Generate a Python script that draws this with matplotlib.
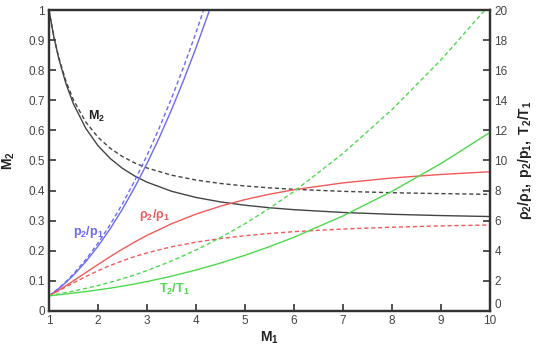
import matplotlib
matplotlib.use("Agg")
import matplotlib.pyplot as plt

plt.rcParams['font.family'] = ['Liberation Sans', 'DejaVu Sans']
plt.rcParams['mathtext.fontset'] = 'custom'
plt.rcParams['mathtext.rm'] = 'Liberation Sans'
plt.rcParams['mathtext.it'] = 'Liberation Sans:italic'
plt.rcParams['mathtext.bf'] = 'Liberation Sans:bold'

# Upstream Mach number samples
M1 = [1, 1.1, 1.2, 1.35, 1.5, 1.75, 2, 2.25, 2.5, 2.75, 3, 3.5, 4, 4.5,
      5, 5.5, 6, 7, 8, 9, 10]

# Solid curves
M2_solid = [1.0, 0.9107, 0.8387, 0.7537, 0.6881, 0.6072, 0.5494, 0.5066, 0.4739,
            0.4483, 0.4280, 0.3978, 0.3771, 0.3623, 0.3513, 0.3429, 0.3365,
            0.3272, 0.3211, 0.3169, 0.3137]
rho_solid = [1.0, 1.185, 1.380, 1.685, 2.002, 2.543, 3.083, 3.609, 4.111, 4.582,
             5.020, 5.792, 6.435, 6.964, 7.400, 7.759, 8.057, 8.512, 8.836,
             9.073, 9.250]
T_solid = [1.0, 1.038, 1.075, 1.130, 1.186, 1.285, 1.394, 1.514, 1.647, 1.792,
           1.951, 2.307, 2.718, 3.182, 3.700, 4.272, 4.899, 6.316, 7.950,
           9.802, 11.871]

# Dashed curves
M2_dash = [1.0, 0.9118, 0.8422, 0.7618, 0.7011, 0.6281, 0.5774, 0.5406, 0.5130,
           0.4918, 0.4752, 0.4512, 0.4350, 0.4236, 0.4152, 0.4090, 0.4042,
           0.3974, 0.3929, 0.3898, 0.3876]
rho_dash = [1.0, 1.169, 1.342, 1.603, 1.862, 2.279, 2.667, 3.019, 3.333, 3.612,
            3.857, 4.261, 4.571, 4.812, 5.000, 5.149, 5.268, 5.444, 5.565,
            5.651, 5.714]
T_dash = [1.0, 1.065, 1.128, 1.223, 1.320, 1.495, 1.688, 1.901, 2.138, 2.397,
          2.679, 3.315, 4.047, 4.875, 5.800, 6.822, 7.941, 10.469, 13.387,
          16.693, 20.387]

# Pressure ratio (only the visible range)
M1_p = [1, 1.1, 1.2, 1.35, 1.5, 1.75, 2, 2.25, 2.5, 2.75, 3, 3.25, 3.5, 3.75,
        4, 4.25, 4.5]
p_solid = [1.0, 1.231, 1.484, 1.904, 2.374, 3.267, 4.297, 5.465, 6.770, 8.213,
           9.793, 11.510, 13.365, 15.357, 17.487, 19.753, 22.158]
p_dash = [1.0, 1.245, 1.513, 1.960, 2.458, 3.406, 4.500, 5.740, 7.125, 8.656,
          10.333, 12.156, 14.125, 16.240, 18.500, 20.906, 23.458]

left_ticks = [0, 0.1, 0.2, 0.3, 0.4, 0.5, 0.6, 0.7, 0.8, 0.9, 1]
left_labels = ['0', '0.1', '0.2', '0.3', '0.4', '0.5', '0.6', '0.7', '0.8', '0.9', '1']
right_ticks = [0, 2, 4, 6, 8, 10, 12, 14, 16, 18, 20]
x_ticks = [1, 2, 3, 4, 5, 6, 7, 8, 9, 10]

c_m = '#444444'
c_p = '#6a6af5'
c_r = '#f05a5a'
c_t = '#4ed84e'
dash = (0, (3, 2))
spine_c = '#333333'
txt_c = '#444444'

fig = plt.figure(figsize=(5.5, 3.47), dpi=100)
ax = fig.add_axes([0.089, 0.104, 0.802, 0.867])
ax2 = ax.twinx()

ax.plot(M1, M2_solid, color=c_m, lw=1.0)
ax.plot(M1, M2_dash, color=c_m, lw=1.0, ls=dash)

ax2.plot(M1_p, p_solid, color=c_p, lw=1.0)
ax2.plot(M1_p, p_dash, color=c_p, lw=1.0, ls=dash)
ax2.plot(M1, rho_solid, color=c_r, lw=1.0)
ax2.plot(M1, rho_dash, color=c_r, lw=1.0, ls=dash)
ax2.plot(M1, T_solid, color=c_t, lw=1.0)
ax2.plot(M1, T_dash, color=c_t, lw=1.0, ls=dash)

ax.set_xlim(1, 10)
ax.set_ylim(0, 1)
ax2.set_ylim(0, 20)

ax.set_xticks(x_ticks)
ax.set_yticks(left_ticks)
ax.set_yticklabels(left_labels)
ax2.set_yticks(right_ticks)

for a in (ax, ax2):
    for s in a.spines.values():
        s.set_color(spine_c)
        s.set_linewidth(1.6)
ax.tick_params(axis='both', direction='in', length=5, width=1.2, color=spine_c,
               labelsize=8.5, labelcolor=txt_c, pad=3)
ax2.tick_params(axis='y', direction='in', length=5, width=1.2, color=spine_c,
                labelsize=8.5, labelcolor=txt_c, pad=3)
# lift the right-axis zero a little, as in the reference
lbls = ax2.get_yticklabels()
lbls[0].set_verticalalignment('bottom')

ax.set_xlabel(r'$\mathbf{M_1}$', fontsize=10, color='#222222', labelpad=2)
ax.set_ylabel(r'$\mathbf{M_2}$', fontsize=10, color='#222222', labelpad=8)
ax2.set_ylabel(r'$\mathbf{\rho_2/\rho_1,\ p_2/p_1,\ T_2/T_1}$',
               fontsize=10, color='#222222', labelpad=6)

ax.text(1.98, 0.645, r'$\mathbf{M_2}$', color='#222222', fontsize=9,
        ha='center', va='center')
ax.text(1.80, 0.262, r'$\mathbf{p_2/p_1}$', color=c_p, fontsize=9,
        ha='center', va='center')
ax.text(3.16, 0.319, r'$\mathbf{\rho_2/\rho_1}$', color=c_r, fontsize=9,
        ha='center', va='center')
ax.text(3.57, 0.073, r'$\mathbf{T_2/T_1}$', color=c_t, fontsize=9,
        ha='center', va='center')

fig.savefig('out.png', dpi=100)
